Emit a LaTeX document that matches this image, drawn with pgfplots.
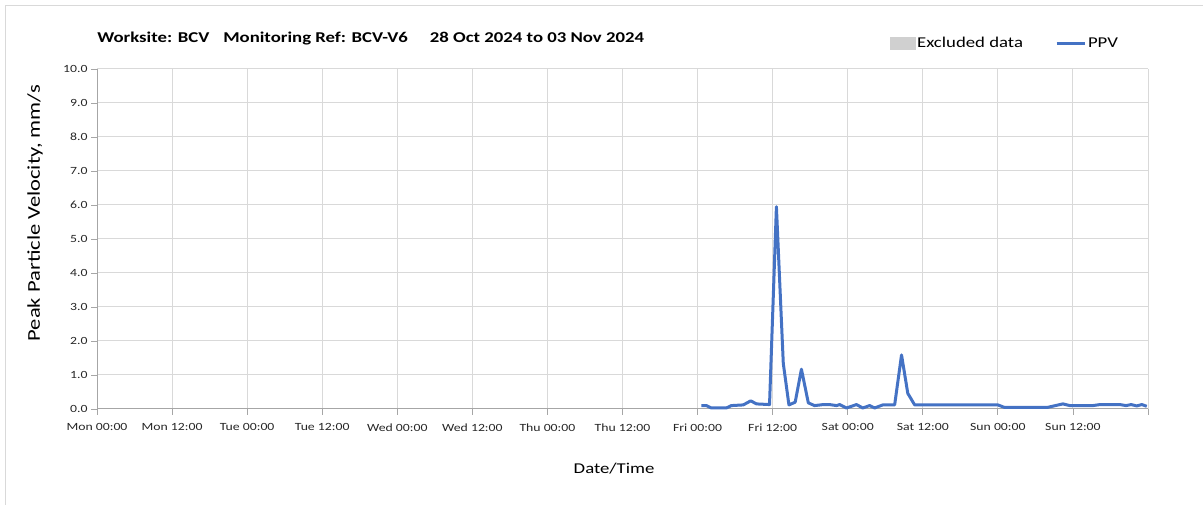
\documentclass[border=0pt]{standalone}
\usepackage{pgfplots}
\pgfplotsset{compat=1.18}
\usepackage{pgfplotstable}
\usepackage{fontspec}
\setmainfont{Carlito}[FakeStretch=1.25]
\definecolor{ppvblue}{HTML}{4472C4}
\definecolor{gridgray}{HTML}{D9D9D9}
\definecolor{axisgray}{HTML}{A6A6A6}
\definecolor{exclgray}{HTML}{D0D0D0}

\pgfplotstableread{
h v
96.6 0.10
97.4 0.10
98.2 0.03
100.6 0.03
101.4 0.10
103.3 0.12
104.5 0.24
105.4 0.15
107.5 0.13
108.6 5.95
109.7 1.34
110.6 0.12
111.6 0.20
112.6 1.17
113.7 0.18
114.7 0.10
116.1 0.13
117.1 0.13
118.2 0.10
118.7 0.13
119.8 0.03
121.4 0.13
122.4 0.03
123.5 0.10
124.3 0.03
125.6 0.12
127.5 0.12
128.6 1.59
129.6 0.46
130.7 0.12
144.0 0.12
145.0 0.05
152.0 0.05
154.4 0.15
155.5 0.10
159.2 0.10
160.3 0.13
163.5 0.13
164.5 0.10
165.3 0.13
166.2 0.09
167.0 0.13
167.8 0.08
}\ppv

\begin{document}
\begin{tikzpicture}[x=1bp,y=1bp]
\useasboundingbox (0,0) rectangle (1203,505);
\draw[gridgray, line width=1bp] (5,0) -- (5,499) -- (1203,499);
\begin{axis}[
  at={(97bp,96bp)}, anchor=south west,
  width=1051bp, height=340bp, scale only axis,
  xmin=0, xmax=168, ymin=0, ymax=10,
  xtick={0,12,...,168},
  xticklabels={Mon 00:00,Mon 12:00,Tue 00:00,Tue 12:00,Wed 00:00,Wed 12:00,Thu 00:00,Thu 12:00,Fri 00:00,Fri 12:00,Sat 00:00,Sat 12:00,Sun 00:00,Sun 12:00,{}},
  ytick={0,1,...,10},
  yticklabel style={/pgf/number format/.cd,fixed,fixed zerofill,precision=1},
  /pgf/number format/assume math mode=true,
  ticklabel style={font=\fontsize{11bp}{13bp}\selectfont, text=black!85},
  xticklabel style={yshift=-5bp},
  tick align=outside,
  major tick length=6bp,
  tick style={axisgray, line width=0.8bp},
  axis x line*=bottom, axis y line*=left,
  axis line style={axisgray, line width=1bp, -},
  grid=major,
  major grid style={gridgray, line width=1bp},
  xlabel={Date/Time},
  ylabel={Peak Particle Velocity, mm/s},
  xlabel style={font=\fontsize{15bp}{18bp}\selectfont, at={(axis description cs:0.492,-0.174)}, anchor=center},
  ylabel style={font=\fontsize{18bp}{21bp}\selectfont, at={(axis description cs:-0.059,0.576)}, anchor=center},
  legend style={at={(axis description cs:0.9763,1.076)}, anchor=east, draw=none, fill=none,
    font=\fontsize{15bp}{18bp}\selectfont, legend columns=2,
    nodes={inner xsep=2bp},
    /tikz/every even column/.append style={column sep=30bp}},
  legend image code/.code={\draw[#1] (0bp,0bp) -- (28bp,0bp);},
  clip=false,
]
\addlegendimage{area legend, legend image code/.code={\fill[exclgray] (0bp,-6bp) rectangle (25bp,6bp);}}
\addlegendentry{Excluded data}
\addplot[ppvblue, line width=3bp, line join=round] table[x=h,y=v] {\ppv};
\addlegendentry{PPV}
\node[anchor=west, font=\bfseries\fontsize{15bp}{18bp}\selectfont] at (axis description cs:-0.003,1.091)
  {Worksite: BCV\hspace{14bp}Monitoring Ref: BCV-V6\hspace{22bp}28 Oct 2024 to 03 Nov 2024};
\end{axis}
\end{tikzpicture}
\end{document}
